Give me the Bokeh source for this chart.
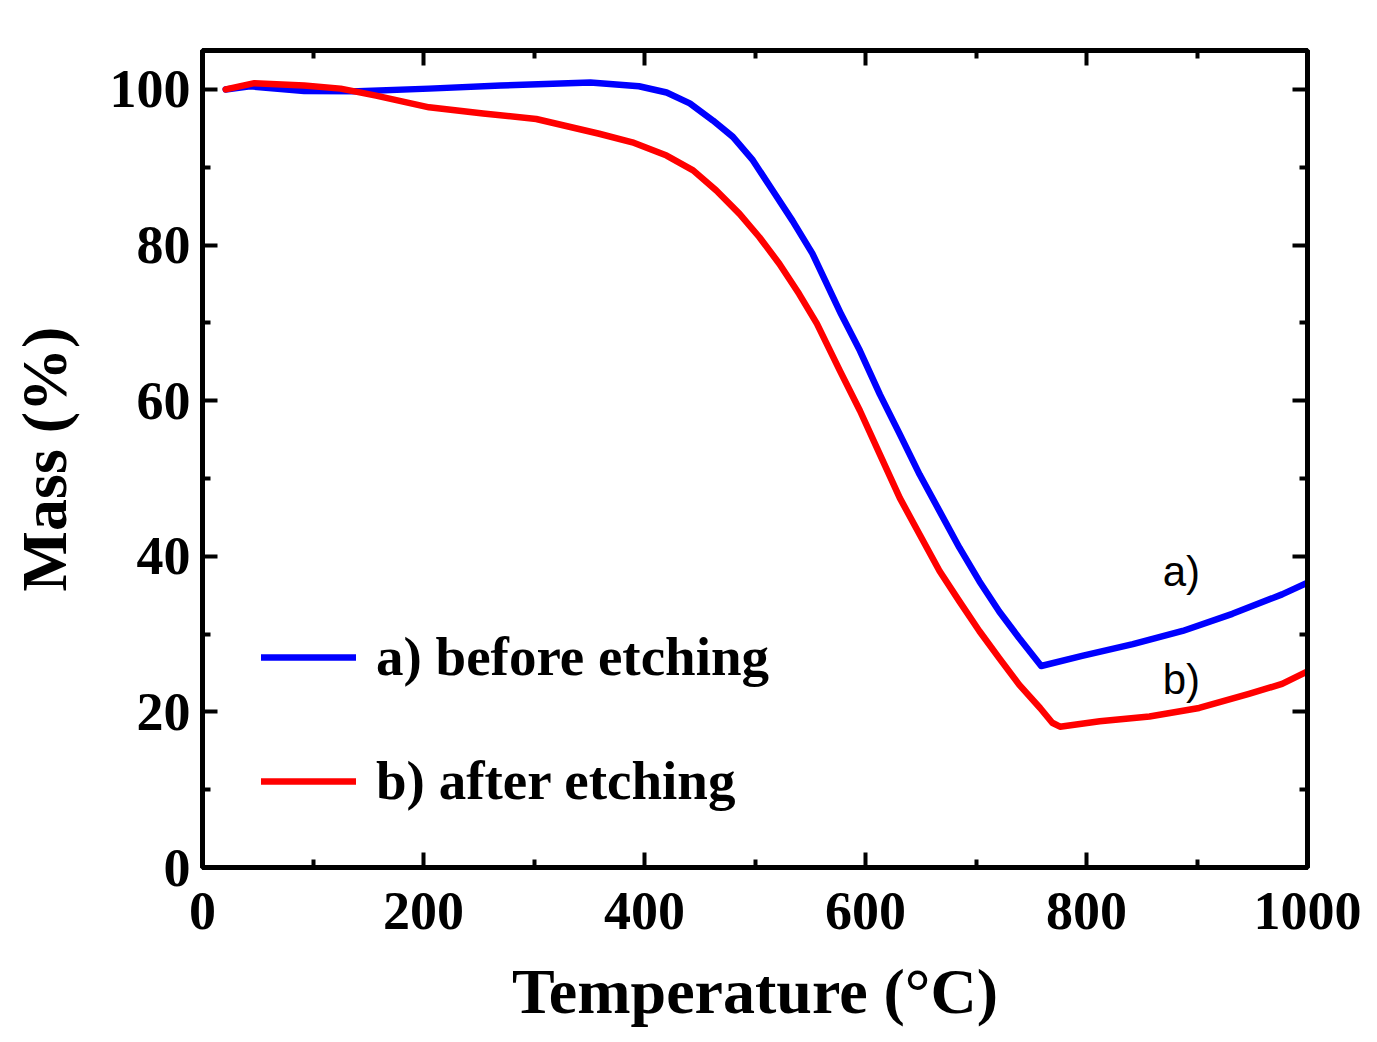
from bokeh.plotting import figure
from bokeh.models import Range1d, LinearAxis, Legend, LegendItem, FixedTicker, ColumnDataSource
from bokeh.core.properties import value
from bokeh.embed import file_html
from bokeh.resources import INLINE

# --- data ---
temp_a = [21, 43, 92, 141, 205, 270, 351, 395, 420, 441, 462, 480, 498, 516, 534, 552,
          578, 595, 613, 631, 649, 667, 685, 703, 721, 739, 759, 796, 842, 887, 932, 977, 1000]
mass_a = [100.0, 100.4, 99.8, 99.75, 100.1, 100.5, 100.9, 100.4, 99.6, 98.2, 96.0, 93.9,
          90.9, 87.0, 83.1, 78.9, 71.1, 66.4, 60.8, 55.7, 50.5, 45.8, 41.1, 36.8, 32.9,
          29.5, 25.9, 27.2, 28.7, 30.4, 32.6, 35.1, 36.6]

temp_b = [21, 47, 92, 125, 157, 205, 254, 302, 359, 389, 420, 444, 465, 486, 504, 522,
          540, 556, 577, 595, 613, 631, 649, 667, 685, 703, 721, 739, 758, 769, 776, 812,
          857, 902, 947, 977, 1000]
mass_b = [100.0, 100.8, 100.5, 100.1, 99.2, 97.7, 96.9, 96.2, 94.3, 93.2, 91.5, 89.6,
          87.0, 84.0, 81.0, 77.6, 73.7, 69.9, 63.8, 58.7, 53.1, 47.5, 42.8, 38.1, 34.2,
          30.4, 26.9, 23.5, 20.5, 18.6, 18.1, 18.8, 19.4, 20.5, 22.3, 23.6, 25.2]

legend_labels = ["a) before etching", "b) after etching"]
ann_x = [869, 869]
ann_y = [38.1, 24.2]
ann_text = ["a)", "b)"]

x_major = [0, 200, 400, 600, 800, 1000]
x_minor = [100, 300, 500, 700, 900]
y_major = [0, 20, 40, 60, 80, 100]
y_minor = [10, 30, 50, 70, 90]

SERIF = "Liberation Serif"

p = figure(frame_width=1105, frame_height=817,
           min_border_left=202, min_border_right=54, min_border_top=50, min_border_bottom=159,
           x_range=Range1d(0, 1000), y_range=Range1d(0, 105),
           output_backend="svg", toolbar_location=None,
           background_fill_color="white", border_fill_color="white")
p.xgrid.visible = False
p.ygrid.visible = False
p.outline_line_color = "black"
p.outline_line_width = 5

r_a = p.line(temp_a, mass_a, line_color="#0000FF", line_width=6.5, line_join="round", line_cap="round")
r_b = p.line(temp_b, mass_b, line_color="#FF0000", line_width=6.5, line_join="round", line_cap="round")

src = ColumnDataSource(dict(x=ann_x, y=ann_y, t=ann_text))
p.text("x", "y", text="t", source=src, text_font=value("Liberation Sans"),
       text_font_size="42px", text_baseline="alphabetic", text_align="left", text_color="black")

def style_axis(ax, major, minor, show_labels):
    ax.ticker = FixedTicker(ticks=major, minor_ticks=minor)
    ax.axis_line_width = 5
    ax.axis_line_color = "black"
    ax.major_tick_in = 15
    ax.major_tick_out = 0
    ax.minor_tick_in = 8
    ax.minor_tick_out = 0
    ax.major_tick_line_width = 4
    ax.minor_tick_line_width = 4
    ax.major_tick_line_color = "black"
    ax.minor_tick_line_color = "black"
    ax.major_label_text_font = SERIF
    ax.major_label_text_font_style = "bold"
    ax.major_label_text_font_size = "54px"
    ax.major_label_text_color = "black"
    if not show_labels:
        ax.major_label_overrides = {t: "" for t in major}

xa = p.xaxis[0]
ya = p.yaxis[0]
style_axis(xa, x_major, x_minor, True)
style_axis(ya, y_major, y_minor, True)
xa.major_label_standoff = 25
ya.major_label_standoff = 12

xa.axis_label = "Temperature (\u00b0C)"
ya.axis_label = "Mass (%)"
for ax in (xa, ya):
    ax.axis_label_text_font = SERIF
    ax.axis_label_text_font_style = "bold"
    ax.axis_label_text_font_size = "64px"
    ax.axis_label_text_color = "black"
xa.axis_label_standoff = 24
ya.axis_label_standoff = 27

top = LinearAxis()
right = LinearAxis()
style_axis(top, x_major, x_minor, False)
style_axis(right, y_major, y_minor, False)
p.add_layout(top, "above")
p.add_layout(right, "right")

legend = Legend(items=[LegendItem(label=legend_labels[0], renderers=[r_a]),
                       LegendItem(label=legend_labels[1], renderers=[r_b])],
                location=(59, 55), orientation="vertical")
legend.background_fill_alpha = 0
legend.border_line_color = None
legend.padding = 0
legend.margin = 0
legend.spacing = 61
legend.glyph_width = 95
legend.glyph_height = 60
legend.label_height = 60
legend.label_standoff = 20
legend.label_text_font = SERIF
legend.label_text_font_style = "bold"
legend.label_text_font_size = "55px"
legend.label_text_color = "black"
p.add_layout(legend, "center")

open("out.html", "w").write(file_html(p, INLINE))
